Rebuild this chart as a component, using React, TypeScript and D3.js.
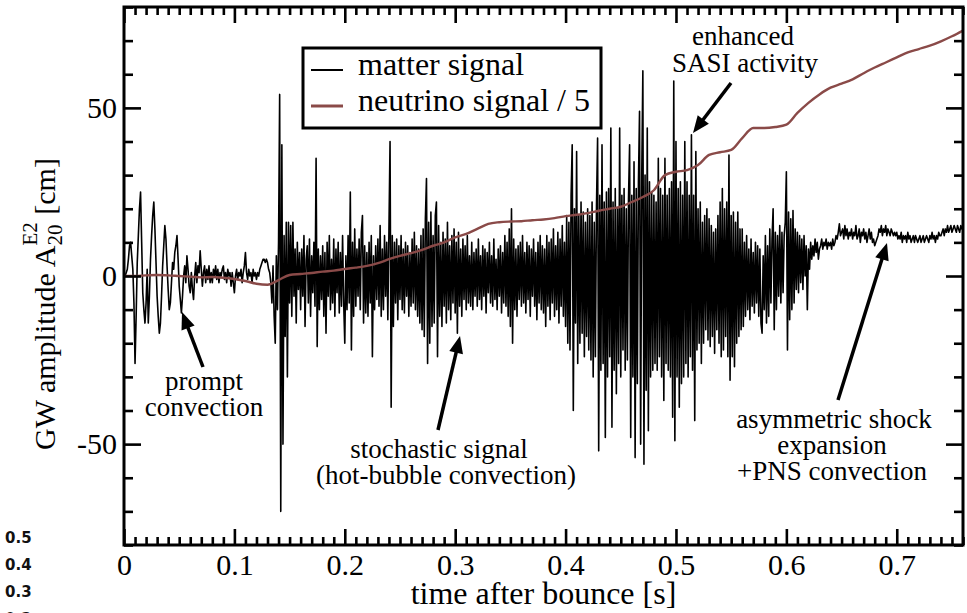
import * as d3 from "d3";
import { useEffect, useRef } from "react";

const svgX = 967;
const svgY = 613;

// matter signal, sampled every 1 ms from t = 0 (values in cm)
const matterStart = 0;
const matterStep = 0.001;
const matterValues = [
  0, 0, 1, 2, 5, 9, 10, 6, 2, -8, -26, -12, 4, 12, 20, 25, 10, -5, -10, -14,
  -8, 2, -14, -6, 5, 12, 18, 22, 14, 4, -6, -12, -17, -14, -6, 3, 9, 15, 11, 3,
  -4, -10, -8, -2, 4, 2, 7, 9, 12, 5, -3, -7, -11, -6, 0, 3, -2, 6, 2, -3,
  -5, 1, -4, -7, 0, 4, -2, 3, 1, 7.5, 2, -3, 1, 3, -2, 2, -1, 3, -2, 1,
  -2, 2, 0, 3, -1, 2, -2, 1, 0, 2, 3, -1, 1, -2, 2, 0, 1, -3, 1, -2,
  -5, 0, 2, -1, 1, 0, 2, -2, 1, 3, 7, 1, -1, 2, 0, 1, -2, 2, 0, 1,
  -1, 1, 0, 2, 3, 4, 5, 5, 4, 5, 4, 2, 1, -2, -8, 3, -12, -20, 6, -10,
  10, 54, -70, 39, -50, 12, -18, 16, -30, 16, -8, 15, -12, 16, -6, 8, -14, 10, -4, 7,
  -10, 8, -6, 12, -15, 5, 9, -8, 11, -12, 6, -5, 10, -9, 35, -21, 8, -10, 6, -7,
  9, -12, 7, -17, 10, -6, 12, -10, 5, -8, 11, -12, 8, -5, 10, -11, 7, -9, 12, -8,
  -20, 6, -10, 12, -8, 25, -22, 10, -12, 14, -9, 8, -6, 11, -10, 13, 18, -14, 9, -11,
  7, -12, 10, -8, 12, -24, 6, -10, 9, -7, 11, -9, 15, -12, 8, -10, 12, -6, 10, -13,
  14, 40, -39, 12, -15, 10, -8, 11, -13, 9, -7, 12, -10, 8, -11, 10, -6, 9, -12, 7,
  -9, 11, -8, 13, -10, 9, -12, 8, -14, 12, -16, 14, -18, 17, 29, -26, 16, -20, 19, -15,
  12, -14, 18, 22, -24, 15, -12, 10, -15, 13, -9, 11, -14, 16, -10, 9, -13, 12, -8, 14,
  -11, 10, -17, 13, -9, 8, -12, 11, -7, 9, -10, 12, -8, 6, -9, 10, -10, 7, -6, 8,
  -9, 11, -7, 6, -10, 9, -6, 8, -11, 7, -5, 10, -8, 6, -9, 11, -7, 5, -10, 8,
  -6, 9, -11, 7, -8, 12, -9, 10, -12, 14, -15, 20, -20, 11, -10, 8, -12, 9, -7, 10,
  -9, 12, -8, 7, -11, 10, -7, 9, -12, 8, -6, 11, -9, 7, -13, 10, -8, 12, -10, 9,
  -11, 8, -15, 12, -9, 10, -13, 11, -8, 14, -12, 9, -10, 13, -14, 11, -9, 15, -12, 10,
  -15, 18, -20, 16, -22, 24, 39, -40, 20, -14, 37, -26, 18, -20, 22, -17, 19, -24, 16, -18,
  20, -22, 18, -25, 22, -30, 16, -24, 21, 41, -52, 24, -28, 39, -26, 22, -48, 25, -30, 26,
  -24, 44, -45, 22, -28, 26, -35, 20, -26, 44, -30, 24, -22, 26, -28, 20, -25, 23, 39, -48,
  24, -30, 34, -54, 26, -32, 28, 49, -50, 30, 61, -56, 30, -34, 44, -46, 28, -30, 25, -28,
  24, -26, 22, -28, 35, -24, 26, -30, 24, -37, 35, -26, 24, -28, 26, -30, 28, -42, 58, -49,
  40, -30, 26, -39, 28, -32, 24, -30, 40, -26, 28, -30, 24, -24, 42, -28, 24, -43, 37, -22,
  20, -20, 22, -26, 16, -20, 18, -16, 20, -19, 17, -21, 15, -18, 13, -23, 14, -16, 18, -20,
  22, -24, 26, -22, 20, -18, 22, -24, 36, -31, 18, -24, 19, -27, 16, -20, 19, -18, 14, -16,
  14, -15, 10, -12, 12, -10, 8, -13, 11, -9, 7, -11, 10, -8, 9, -12, 8, -14, -17, 6,
  -10, 12, -14, 9, -12, 14, -8, 11, 20, -16, 13, -10, 12, -6, 15, -8, 13, -5, 12, 16,
  31, -22, 19, -13, 17, -10, 19.5, -8, 14, -4, 13, -5, 12, -2, 11, -4, 12, 0, 9, -10,
  8, 2, 10, 5, 9, 6, 11, 7, 10, 5, 8, 9, 11, 8, 10, 9, 11, 8, 10, 9,
  10, 8, 11, 9, 10, 12, 11, 13, 15.5, 12, 13, 14, 11, 15, 12, 14, 11, 13, 12, 14,
  11, 13, 12, 15, 11, 12, 14, 10, 13, 12, 14, 11, 13, 10, 12, 14, 11, 13, 10, 11,
  9, 10, 11, 12, 14, 13, 15, 12, 14, 13, 15, 12, 14, 13, 12, 14, 13, 12, 13, 12,
  13, 11, 12, 11, 13, 10, 12, 11, 12, 10, 13, 11, 12, 10, 11, 12, 10, 12, 11, 10,
  11, 12, 10, 11, 12, 10, 11, 12, 11, 10, 12, 11, 13, 11, 12, 10, 12, 11, 13, 12,
  12, 13, 14, 12, 14, 13, 15, 13, 14, 15, 13, 14, 15, 14, 13, 15, 14, 13, 15, 14,
  14,
];

// neutrino signal / 5
const neutrinoTimes = [
  0, 0.01, 0.02, 0.03, 0.04, 0.05, 0.06, 0.07, 0.08, 0.09,
  0.1, 0.11, 0.12, 0.13, 0.14, 0.15, 0.16, 0.17, 0.18, 0.19,
  0.2, 0.21, 0.22, 0.23, 0.24, 0.25, 0.26, 0.27, 0.28, 0.29,
  0.3, 0.31, 0.32, 0.33, 0.34, 0.35, 0.36, 0.37, 0.38, 0.39,
  0.4, 0.41, 0.42, 0.43, 0.44, 0.45, 0.46, 0.47, 0.48, 0.49,
  0.5, 0.51, 0.52, 0.53, 0.54, 0.55, 0.56, 0.57, 0.58, 0.59,
  0.6, 0.61, 0.62, 0.63, 0.64, 0.65, 0.66, 0.67, 0.68, 0.69,
  0.7, 0.71, 0.72, 0.73, 0.74, 0.75, 0.76,
];
const neutrinoValues = [
  0, 0, 0.2, 0.3, 0.2, 0, -0.2, -0.4, -0.3, -0.5,
  -0.9, -1.5, -2.3, -2.6, -1.2, 0.3, 0.6, 0.9, 1.3, 1.6,
  2.1, 2.5, 3.0, 3.8, 5.0, 6.0, 6.8, 7.8, 9.0, 10.0,
  11.5, 12.5, 14.0, 15.5, 16.0, 16.2, 16.3, 16.6, 16.8, 17.2,
  17.8, 18.2, 18.7, 19.4, 20.0, 20.6, 22.0, 23.5, 25.5, 30,
  31, 31.5, 33, 36, 36.8, 37.5, 41, 44, 44, 44.3,
  45, 48.5, 51.5, 54, 56, 57.2, 58.5, 60.3, 62, 63.5,
  65, 66.5, 67.5, 68.5, 69.8, 71.3, 73,
];

const xMajorTicks = [0, 0.1, 0.2, 0.3, 0.4, 0.5, 0.6, 0.7];
const yMajorTicks = [-50, 0, 50];
const legendLabels = ["matter signal", "neutrino signal / 5"];
const strayLabels = ["0.5", "0.4", "0.3", "0.2"];

const serif = "'Liberation Serif', 'Times New Roman', serif";
const brown = "#8a4a48";

export default function App() {
  const ref = useRef<SVGSVGElement>(null);

  useEffect(() => {
    const svg = d3.select(ref.current);
    svg.selectAll("*").remove();

    const left = 124, right = 963, top = 7, bottom = 545;
    const x = d3.scaleLinear().domain([0, 0.76]).range([left, right]);
    const y = d3.scaleLinear().domain([-80, 80]).range([bottom, top]);

    svg.append("rect").attr("width", svgX).attr("height", svgY).attr("fill", "#fff");

    svg.append("defs").append("clipPath").attr("id", "plotclip")
      .append("rect").attr("x", left).attr("y", top)
      .attr("width", right - left).attr("height", bottom - top);

    // matter signal
    const matterLine = d3.line<number>()
      .x((d, i) => x(matterStart + i * matterStep))
      .y((d) => y(d));
    svg.append("path")
      .datum(matterValues)
      .attr("clip-path", "url(#plotclip)")
      .attr("fill", "none")
      .attr("stroke", "#000")
      .attr("stroke-width", 1.6)
      .attr("stroke-linejoin", "round")
      .attr("d", matterLine);

    // neutrino signal
    const nuLine = d3.line<number>()
      .x((d, i) => x(neutrinoTimes[i]))
      .y((d) => y(d))
      .curve(d3.curveMonotoneX);
    svg.append("path")
      .datum(neutrinoValues)
      .attr("clip-path", "url(#plotclip)")
      .attr("fill", "none")
      .attr("stroke", brown)
      .attr("stroke-width", 2.4)
      .attr("d", nuLine);

    // minor ticks
    const xMinor = d3.range(0, 77).map((i) => i / 100).filter((v) => Math.round(v * 100) % 10 !== 0);
    const yMinor = d3.range(-80, 81, 10).filter((v) => v % 50 !== 0);

    const styleAxis = (g: any) => {
      g.select(".domain").remove();
      g.selectAll("line").attr("stroke", "#000").attr("stroke-width", 2.6);
      g.selectAll("text").attr("font-family", serif).attr("font-size", 30).attr("fill", "#000");
    };

    svg.append("g").attr("transform", `translate(0,${bottom})`)
      .call(d3.axisBottom(x).tickValues(xMajorTicks).tickSizeInner(-16).tickSizeOuter(0).tickPadding(9)
        .tickFormat((d: any) => (d === 0 ? "0" : d3.format(".1f")(d))))
      .call(styleAxis);
    svg.append("g").attr("transform", `translate(0,${bottom})`)
      .call(d3.axisBottom(x).tickValues(xMinor).tickSizeInner(-8).tickSizeOuter(0).tickFormat(() => ""))
      .call(styleAxis);
    svg.append("g").attr("transform", `translate(0,${top})`)
      .call(d3.axisTop(x).tickValues(xMajorTicks).tickSizeInner(-16).tickSizeOuter(0).tickFormat(() => ""))
      .call(styleAxis);
    svg.append("g").attr("transform", `translate(0,${top})`)
      .call(d3.axisTop(x).tickValues(xMinor).tickSizeInner(-8).tickSizeOuter(0).tickFormat(() => ""))
      .call(styleAxis);

    svg.append("g").attr("transform", `translate(${left},0)`)
      .call(d3.axisLeft(y).tickValues(yMajorTicks).tickSizeInner(-17).tickSizeOuter(0).tickPadding(7)
        .tickFormat((d: any) => String(d)))
      .call(styleAxis);
    svg.append("g").attr("transform", `translate(${left},0)`)
      .call(d3.axisLeft(y).tickValues(yMinor).tickSizeInner(-9).tickSizeOuter(0).tickFormat(() => ""))
      .call(styleAxis);
    svg.append("g").attr("transform", `translate(${right},0)`)
      .call(d3.axisRight(y).tickValues(yMajorTicks).tickSizeInner(-17).tickSizeOuter(0).tickFormat(() => ""))
      .call(styleAxis);
    svg.append("g").attr("transform", `translate(${right},0)`)
      .call(d3.axisRight(y).tickValues(yMinor).tickSizeInner(-9).tickSizeOuter(0).tickFormat(() => ""))
      .call(styleAxis);

    // frame
    svg.append("rect")
      .attr("x", left).attr("y", top)
      .attr("width", right - left).attr("height", bottom - top)
      .attr("fill", "none").attr("stroke", "#000").attr("stroke-width", 3);

    // axis titles
    svg.append("text")
      .attr("x", (left + right) / 2).attr("y", 604)
      .attr("text-anchor", "middle")
      .attr("font-family", serif).attr("font-size", 32)
      .text("time after bounce [s]");

    const yt = svg.append("text")
      .attr("transform", "translate(55,450) rotate(-90)")
      .attr("font-family", serif).attr("font-size", 30);
    yt.append("tspan").text("GW amplitude A");
    yt.append("tspan").attr("font-size", 21).attr("dy", 7).text("20");
    yt.append("tspan").attr("font-size", 21).attr("dx", -21).attr("dy", -25).text("E2");
    yt.append("tspan").attr("dy", 18).text(" [cm]");

    // legend
    svg.append("rect")
      .attr("x", 303).attr("y", 48).attr("width", 298).attr("height", 80)
      .attr("fill", "#fff").attr("stroke", "#000").attr("stroke-width", 3);
    const legendColors = ["#000", brown];
    const legendWidths = [2, 3];
    legendLabels.forEach((lab, i) => {
      const ly = 70 + i * 36;
      svg.append("line")
        .attr("x1", 311).attr("x2", 343).attr("y1", ly).attr("y2", ly)
        .attr("stroke", legendColors[i]).attr("stroke-width", legendWidths[i]);
      svg.append("text")
        .attr("x", 358).attr("y", ly + 5)
        .attr("font-family", serif).attr("font-size", 32)
        .text(lab);
    });

    // annotations
    const notes: [string, number, number][] = [
      ["enhanced", 743, 45],
      ["SASI activity", 745, 72],
      ["prompt", 204, 390],
      ["convection", 204, 416],
      ["stochastic signal", 439, 458],
      ["(hot-bubble convection)", 446, 484],
      ["asymmetric shock", 834, 428],
      ["expansion", 832, 454],
      ["+PNS convection", 832, 480],
    ];
    notes.forEach(([t, nx, ny]) => {
      svg.append("text")
        .attr("x", nx).attr("y", ny)
        .attr("text-anchor", "middle")
        .attr("font-family", serif).attr("font-size", 27)
        .text(t);
    });

    const arrow = (x1: number, y1: number, x2: number, y2: number) => {
      const dx = x2 - x1, dy = y2 - y1;
      const len = Math.hypot(dx, dy);
      const ux = dx / len, uy = dy / len;
      const hl = 17, hw = 7;
      const bx = x2 - ux * hl, by = y2 - uy * hl;
      svg.append("line")
        .attr("x1", x1).attr("y1", y1).attr("x2", bx + ux * 2).attr("y2", by + uy * 2)
        .attr("stroke", "#000").attr("stroke-width", 3.5);
      svg.append("polygon")
        .attr("points", `${x2},${y2} ${bx - uy * hw},${by + ux * hw} ${bx + uy * hw},${by - ux * hw}`)
        .attr("fill", "#000");
    };
    arrow(731, 83, 693, 133);
    arrow(203, 367, 182, 312);
    arrow(438, 430, 460, 336);
    arrow(838, 400, 887, 243);

    // stray labels at the lower left
    strayLabels.forEach((s, i) => {
      svg.append("text")
        .attr("x", 5).attr("y", 543 + i * 27)
        .attr("font-family", "'DejaVu Sans', sans-serif")
        .attr("font-weight", "bold").attr("font-size", 15)
        .attr("fill", "#111")
        .text(s);
    });
  }, []);

  return (
    <svg ref={ref} width={svgX} height={svgY}
      style={{ position: "absolute", left: 0, top: 0, display: "block" }} />
  );
}
